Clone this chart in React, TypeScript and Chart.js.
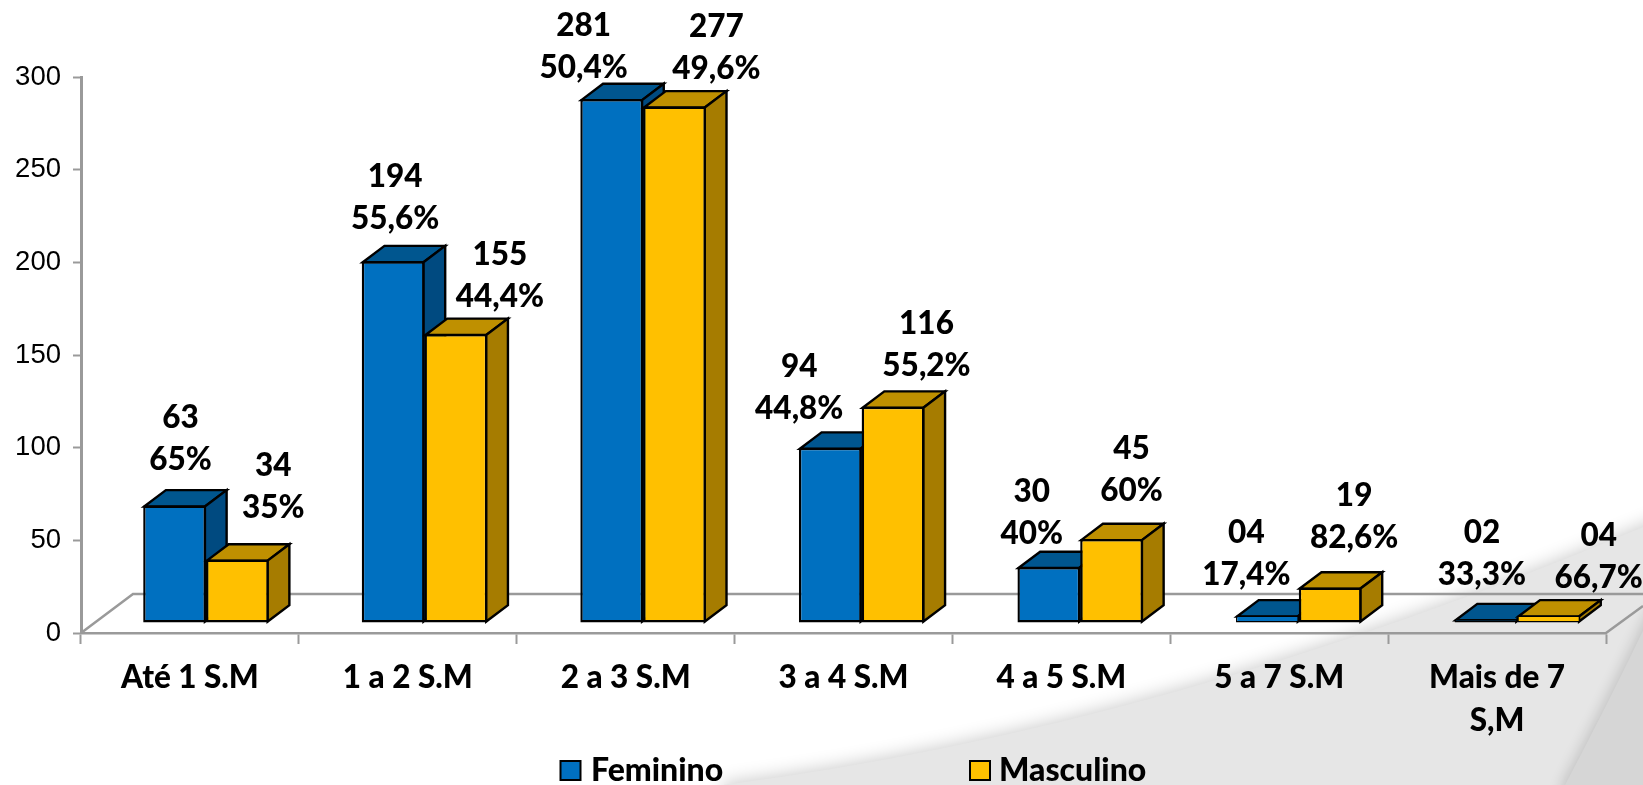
import React, { useEffect, useRef } from "react";
import { Chart, registerables } from "chart.js";

Chart.register(...registerables);

const categories: (string | string[])[] = ["Até 1 S.M", "1 a 2 S.M", "2 a 3 S.M", "3 a 4 S.M", "4 a 5 S.M", "5 a 7 S.M", ["Mais de 7", "S,M"]];
const feminino = [63, 194, 281, 94, 30, 4, 2];
const masculino = [34, 155, 277, 116, 45, 19, 4];
const femininoCounts = ["63", "194", "281", "94", "30", "04", "02"];
const masculinoCounts = ["34", "155", "277", "116", "45", "19", "04"];
const femininoPct = ["65%", "55,6%", "50,4%", "44,8%", "40%", "17,4%", "33,3%"];
const masculinoPct = ["35%", "44,4%", "49,6%", "55,2%", "60%", "82,6%", "66,7%"];

const FLOOR_DX = 16, FLOOR_DY = 10;
const DRIFT = 0.71;
const BAR_SCALE = 1.006;
const DEPTH_X = 21.7, DEPTH_Y = 16.3;
const LINE_GAP = 42;
const LABEL_SHIFT = 1;
const labelDx = [[6, 2, -28, -31, -17, -21, -4], [36, 44, 42, 33.5, 20, 24, 50]];
const labelDy = [[-89, -85, -74, -82, -76.5, -84, -87], [-95, -80, -81, -84, -91, -93, -81]];
const faceColors = [
  { top: "#00568F", side: "#004A80" },
  { top: "#BF9000", side: "#A67C00" },
];
const legendBoxes = [{ box: 560.5, text: 591 }, { box: 970, text: 999 }];
const BOLD = "Lato, 'Open Sans', sans-serif";
const WEIGHT = "900";
const BORDER = 2.4;
const THIN_BORDER = 1.4;

const poly = (ctx: CanvasRenderingContext2D, pts: number[][], fill: string) => {
  ctx.beginPath();
  pts.forEach((p, i) => (i ? ctx.lineTo(p[0], p[1]) : ctx.moveTo(p[0], p[1])));
  ctx.closePath();
  ctx.fillStyle = fill;
  ctx.fill();
  ctx.stroke();
};

const scene = {
  id: "scene",
  beforeDraw(chart: any) {
    const { ctx, width: W, height: H } = chart;
    ctx.save();
    ctx.fillStyle = "#fff";
    ctx.fillRect(0, 0, W, H);
    ctx.shadowColor = "rgba(0,0,0,0.2)";
    ctx.shadowBlur = 18;
    ctx.shadowOffsetY = -2;
    ctx.fillStyle = "#E6E6E6";
    ctx.beginPath();
    ctx.moveTo(723, H + 20);
    ctx.lineTo(723, H);
    ctx.quadraticCurveTo(1183, 726, W + 40, 510);
    ctx.lineTo(W + 40, H + 20);
    ctx.closePath();
    ctx.fill();
    ctx.shadowColor = "rgba(0,0,0,0.16)";
    ctx.shadowBlur = 14;
    ctx.shadowOffsetY = 0;
    ctx.shadowOffsetX = -3;
    ctx.fillStyle = "#D6D6D6";
    ctx.beginPath();
    ctx.moveTo(1565, H + 20);
    ctx.lineTo(1565, H);
    ctx.quadraticCurveTo(1610, 700, W + 10, 610);
    ctx.lineTo(W + 40, 600);
    ctx.lineTo(W + 40, H + 20);
    ctx.closePath();
    ctx.fill();
    ctx.restore();
  },
  beforeDatasetsDraw(chart: any) {
    const { ctx, chartArea: a, width: W } = chart;
    ctx.save();
    ctx.strokeStyle = "#9A9A9A";
    ctx.lineWidth = 2.5;
    ctx.beginPath();
    ctx.moveTo(a.left, a.bottom);
    ctx.lineTo(a.left + 52, a.bottom - 39);
    ctx.lineTo(W, a.bottom - 39);
    ctx.moveTo(a.right, a.bottom);
    ctx.lineTo(W, a.bottom - 27);
    ctx.stroke();
    ctx.strokeStyle = "#000";
    ctx.lineWidth = BORDER;
    ctx.lineJoin = "miter";
    [0, 1].forEach((di) => {
      chart.getDatasetMeta(di).data.forEach((el: any, i: number) => {
        const { x, y, base, width } = el.getProps(["x", "y", "base", "width"], true);
        ctx.save();
        ctx.translate(FLOOR_DX + i * DRIFT, -FLOOR_DY + base);
        ctx.scale(1, BAR_SCALE);
        ctx.translate(0, -base);
        const x0 = x - width / 2 + 1, x1 = x + width / 2 - 1;
        const t = y + 1, b = base - 1;
        poly(ctx, [[x0, t], [x0 + DEPTH_X, t - DEPTH_Y], [x1 + DEPTH_X, t - DEPTH_Y], [x1, t]], faceColors[di].top);
        poly(ctx, [[x1, t], [x1 + DEPTH_X, t - DEPTH_Y], [x1 + DEPTH_X, b - DEPTH_Y], [x1, b]], faceColors[di].side);
        el.draw(ctx);
        ctx.restore();
      });
    });
    ctx.restore();
    return false;
  },
  afterDraw(chart: any) {
    const { ctx } = chart;
    ctx.save();
    ctx.fillStyle = "#000";
    ctx.textAlign = "center";
    ctx.textBaseline = "middle";
    ctx.font = `${WEIGHT} 31.5px ${BOLD}`;
    const counts = [femininoCounts, masculinoCounts];
    const pcts = [femininoPct, masculinoPct];
    [0, 1].forEach((di) => {
      chart.getDatasetMeta(di).data.forEach((el: any, i: number) => {
        const { x, y, base } = el.getProps(["x", "y", "base"], true);
        const cx = x + FLOOR_DX + i * DRIFT + labelDx[di][i];
        const cy = base - (base - y) * BAR_SCALE - FLOOR_DY + labelDy[di][i] + LABEL_SHIFT;
        ctx.fillText(counts[di][i], cx, cy);
        ctx.fillText(pcts[di][i], cx, cy + LINE_GAP);
      });
    });
    ctx.textAlign = "left";
    ctx.font = `${WEIGHT} 32px ${BOLD}`;
    chart.data.datasets.forEach((ds: any, di: number) => {
      const pos = legendBoxes[di];
      ctx.fillStyle = ds.backgroundColor;
      ctx.strokeStyle = "#000";
      ctx.lineWidth = 2;
      ctx.fillRect(pos.box, 761, 20, 19);
      ctx.strokeRect(pos.box, 761, 20, 19);
      ctx.fillStyle = "#000";
      ctx.fillText(ds.label, pos.text, 771);
    });
    ctx.restore();
  },
};

const barBorder = (c: any) => (c.raw < 10 ? THIN_BORDER : BORDER);

export default function App() {
  const ref = useRef<HTMLCanvasElement>(null);
  useEffect(() => {
    const chart = new Chart(ref.current!, {
      type: "bar",
      data: {
        labels: categories,
        datasets: [
          { label: "Feminino", data: feminino, backgroundColor: "#0070C0", borderColor: "#000", borderWidth: barBorder, borderSkipped: false },
          { label: "Masculino", data: masculino, backgroundColor: "#FFC000", borderColor: "#000", borderWidth: barBorder, borderSkipped: false },
        ],
      } as any,
      options: {
        animation: false,
        responsive: false,
        devicePixelRatio: 1,
        layout: { padding: { top: 77, right: 37, left: 0, bottom: 0 } },
        datasets: { bar: { categoryPercentage: 0.576, barPercentage: 1 } },
        plugins: { legend: { display: false }, tooltip: { enabled: false }, title: { display: false } },
        scales: {
          x: {
            afterFit: (s: any) => { s.height = 152; },
            border: { color: "#9A9A9A", width: 2.5 },
            grid: { drawOnChartArea: false, tickLength: 11, tickColor: "#9A9A9A", tickWidth: 2 },
            ticks: {
              autoSkip: false,
              maxRotation: 0,
              padding: 12,
              color: "#000",
              font: { family: BOLD, size: 31.5, weight: WEIGHT, lineHeight: 1.37 },
            },
          },
          y: {
            min: 0,
            max: 300,
            afterFit: (s: any) => { s.width = 81; },
            border: { color: "#9A9A9A", width: 3 },
            grid: { drawOnChartArea: false, tickLength: 8, tickColor: "#9A9A9A", tickWidth: 2 },
            ticks: {
              stepSize: 50,
              padding: 12,
              color: "#000",
              font: { family: "'Liberation Sans', Arial, sans-serif", size: 27.5 },
            },
          },
        },
      } as any,
      plugins: [scene as any],
    });
    return () => chart.destroy();
  }, []);
  return (
    <canvas
      ref={ref}
      width={1643}
      height={785}
      style={{ position: "fixed", left: 0, top: 0, width: 1643, height: 785, display: "block" }}
    />
  );
}
